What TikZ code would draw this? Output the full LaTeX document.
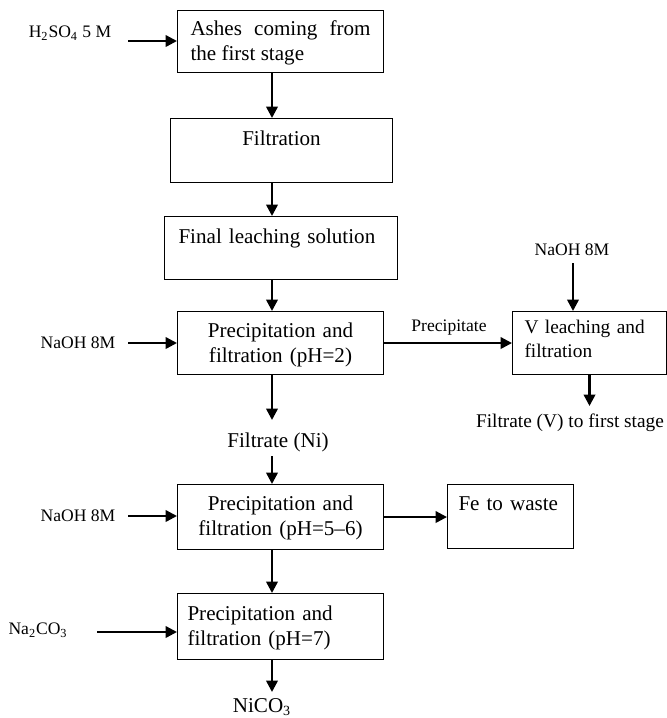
\documentclass[tikz,border=0pt]{standalone}
\usepackage{fontspec}
\setmainfont{Liberation Serif}
\usetikzlibrary{arrows.meta,positioning}

\begin{document}
\begin{tikzpicture}[x=0.02cm,y=-0.02cm,
  box/.style={draw,line width=0.6pt,inner xsep=0.22cm,inner ysep=0pt,anchor=north west,font=\fontsize{12}{14}\selectfont},
  lbl/.style={font=\fontsize{10}{12}\selectfont,inner sep=1pt},
  arr/.style={-{Triangle[length=6.5pt,width=6.5pt]},line width=1.4pt}]
\useasboundingbox (0,0) rectangle (667,718);
% main line of boxes
\node[box,minimum width=4.12cm,text width=3.6cm,align=justify,text height=0.5cm,text depth=0.74cm] (ashes) at (177,10) {Ashes coming from the first stage};
\node[box,minimum width=4.44cm,text width=4cm,align=center,text height=0.54cm,text depth=0.74cm] (filt) at (170,118) {Filtration};
\node[box,inner xsep=0.28cm,minimum width=4.66cm,text width=4.1cm,align=left,text height=0.54cm,text depth=0.72cm] (leach) at (164,216) {Final leaching solution};
\node[box,minimum width=4.12cm,text width=3.68cm,align=center,text height=0.52cm,text depth=0.74cm] (precA) at (177,311) {Precipitation and\\filtration (pH=2)};
\node[box,minimum width=4.12cm,text width=3.68cm,align=center,text height=0.52cm,text depth=0.78cm] (precB) at (177,484) {Precipitation and\\filtration (pH=5--6)};
\node[box,inner xsep=0.2cm,minimum width=4.12cm,text width=3.72cm,align=left,text height=0.54cm,text depth=0.78cm] (precC) at (177,593) {Precipitation and\\filtration (pH=7)};
% side boxes
\node[box,inner xsep=0.24cm,minimum width=3.08cm,text width=2.6cm,align=left,font=\fontsize{11}{13.6}\selectfont,text height=0.44cm,text depth=0.82cm] (vleach) at (512,311) {V leaching and\\filtration};
\node[box,minimum width=2.52cm,text width=2.08cm,align=left,text height=0.52cm,text depth=0.76cm] (waste) at (447,484) {Fe to waste};
% labels
\node[lbl] (acid) at (70,33) {H\textsubscript{2}SO\textsubscript{4} 5 M};
\node[lbl] (naohA) at (78,343) {NaOH 8M};
\node[lbl] (naohB) at (78,516) {NaOH 8M};
\node[lbl] (naohC) at (572,250) {NaOH 8M};
\node[lbl] (carb) at (38,630) {Na\textsubscript{2}CO\textsubscript{3}};
\node[lbl] (ppt) at (449,328) {Precipitate};
\node[lbl,font=\fontsize{11}{13}\selectfont] (filtV) at (570,423) {Filtrate (V) to first stage};
\node[lbl,font=\fontsize{12}{14}\selectfont] (filtNi) at (278,442) {Filtrate (Ni)};
\node[lbl,font=\fontsize{12}{14}\selectfont] (nico) at (262,707) {NiCO\textsubscript{3}};
% free ends
\coordinate (spine) at (272,0);
\coordinate (acidIn) at (128,41);
\coordinate (naohAIn) at (128,343);
\coordinate (naohBIn) at (128,516);
\coordinate (carbIn) at (97,632);
\coordinate (naohCIn) at (573,263);
\coordinate (vOut) at (589,406);
\coordinate (niOut) at (272,420);
\coordinate (niIn) at (272,456);
\coordinate (nicoOut) at (272,692);
% connectors
\draw[arr] (acidIn) -- (acidIn -| ashes.west);
\draw[arr] (ashes.south -| spine) -- (filt.north -| spine);
\draw[arr] (filt.south -| spine) -- (leach.north -| spine);
\draw[arr] (leach.south -| spine) -- (precA.north -| spine);
\draw[arr] (naohAIn) -- (naohAIn -| precA.west);
\draw[arr] (precA.east) -- (precA.east -| vleach.west);
\draw[arr] (naohCIn) -- (naohCIn |- vleach.north);
\draw[arr] (vleach.south) -- (vleach.south |- vOut);
\draw[arr] (precA.south -| spine) -- (niOut);
\draw[arr] (niIn) -- (precB.north -| spine);
\draw[arr] (naohBIn) -- (naohBIn -| precB.west);
\draw[arr] (precB.east) -- (precB.east -| waste.west);
\draw[arr] (precB.south -| spine) -- (precC.north -| spine);
\draw[arr] (carbIn) -- (carbIn -| precC.west);
\draw[arr] (precC.south -| spine) -- (nicoOut);
\end{tikzpicture}
\end{document}
